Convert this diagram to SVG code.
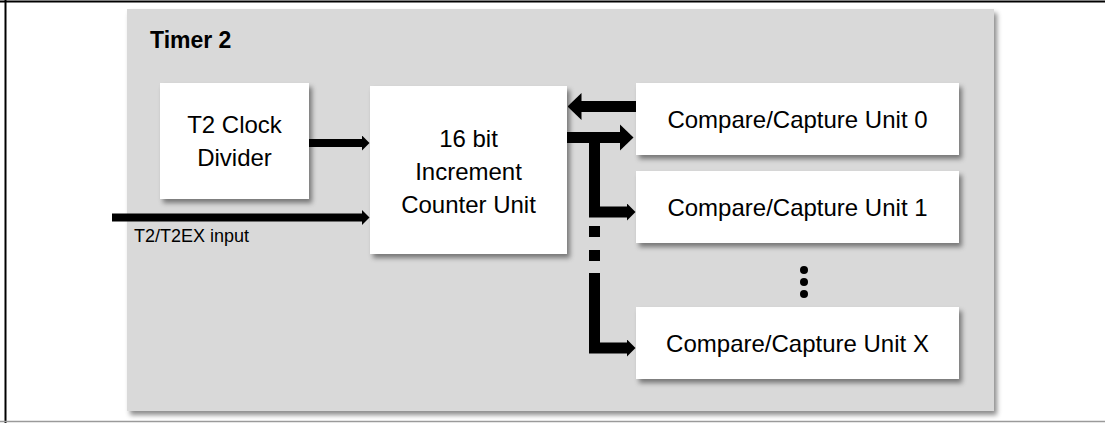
<svg xmlns="http://www.w3.org/2000/svg" width="1105" height="423" viewBox="0 0 1105 423">
  <defs>
    <style>
      .box { fill: #ffffff; filter: url(#shadow); }
      .txt { font-family: "Liberation Sans", Arial, sans-serif; font-size: 24px; fill: #000; text-anchor: middle; }
      .wire { fill: none; stroke: #000; stroke-linejoin: miter; stroke-linecap: butt; }
    </style>
    <filter id="shadow" x="-10%" y="-10%" width="130%" height="140%">
      <feDropShadow dx="3" dy="4" stdDeviation="2.5" flood-color="#000" flood-opacity="0.45"/>
    </filter>
    <marker id="hs" markerUnits="userSpaceOnUse" markerWidth="8" markerHeight="16" refX="0.5" refY="8" orient="auto">
      <path d="M0,0 L8,8 L0,16 Z" fill="#000"/>
    </marker>
    <marker id="hm" markerUnits="userSpaceOnUse" markerWidth="9" markerHeight="18" refX="0.5" refY="9" orient="auto">
      <path d="M0,0 L9,9 L0,18 Z" fill="#000"/>
    </marker>
    <marker id="hl" markerUnits="userSpaceOnUse" markerWidth="14" markerHeight="27" refX="0.5" refY="13.5" orient="auto">
      <path d="M0,0 L14,13.5 L0,27 Z" fill="#000"/>
    </marker>
  </defs>

  <rect x="0" y="0" width="1105" height="423" fill="#ffffff"/>
  <!-- outer frame -->
  <line x1="0" y1="1.5" x2="1105" y2="1.5" stroke="#000" stroke-width="2"/>
  <line x1="5.5" y1="0" x2="5.5" y2="423" stroke="#000" stroke-width="2"/>
  <line x1="0" y1="421.5" x2="1105" y2="421.5" stroke="#9a9a9a" stroke-width="1.5"/>

  <g id="timer2">
    <rect x="127" y="9" width="867" height="402" fill="#d9d9d9" filter="url(#shadow)"/>
    <text x="150" y="48" font-family="'Liberation Sans', Arial, sans-serif" font-size="23" font-weight="bold" fill="#000">Timer 2</text>
  </g>

  <g id="clock-divider">
    <rect class="box" x="160" y="83" width="149" height="116"/>
    <text class="txt" x="234.5" y="133">T2 Clock</text>
    <text class="txt" x="234.5" y="166">Divider</text>
  </g>

  <g id="counter">
    <rect class="box" x="370" y="86" width="197" height="168"/>
    <text class="txt" x="468.5" y="147">16 bit</text>
    <text class="txt" x="468.5" y="180">Increment</text>
    <text class="txt" x="468.5" y="213">Counter Unit</text>
  </g>

  <g id="cc0">
    <rect class="box" x="636" y="83" width="323" height="72"/>
    <text class="txt" x="797.5" y="128">Compare/Capture Unit 0</text>
  </g>
  <g id="cc1">
    <rect class="box" x="636" y="171" width="323" height="72"/>
    <text class="txt" x="797.5" y="216">Compare/Capture Unit 1</text>
  </g>
  <g id="ellipsis">
    <circle cx="804" cy="270" r="4"/>
    <circle cx="804" cy="282" r="4"/>
    <circle cx="804" cy="294" r="4"/>
  </g>
  <g id="ccx">
    <rect class="box" x="636" y="307" width="323" height="72"/>
    <text class="txt" x="797.5" y="352">Compare/Capture Unit X</text>
  </g>

  <g id="connectors">
    <path class="wire" d="M309,143 H362" stroke-width="8" marker-end="url(#hs)"/>
    <path class="wire" d="M112,217.5 H362" stroke-width="8" marker-end="url(#hs)"/>
    <text x="134" y="242" font-family="'Liberation Sans', Arial, sans-serif" font-size="18" fill="#000">T2/T2EX input</text>
    <path class="wire" d="M636,106.5 H581" stroke-width="11" marker-end="url(#hl)"/>
    <path class="wire" d="M567,137.5 H620" stroke-width="11" marker-end="url(#hl)"/>
    <path class="wire" d="M594.5,137 V212 H627" stroke-width="11" marker-end="url(#hm)"/>
    <rect x="589" y="226" width="11" height="11"/>
    <rect x="589" y="250" width="11" height="11"/>
    <path class="wire" d="M594.5,273 V348 H627" stroke-width="11" marker-end="url(#hm)"/>
  </g>
</svg>
